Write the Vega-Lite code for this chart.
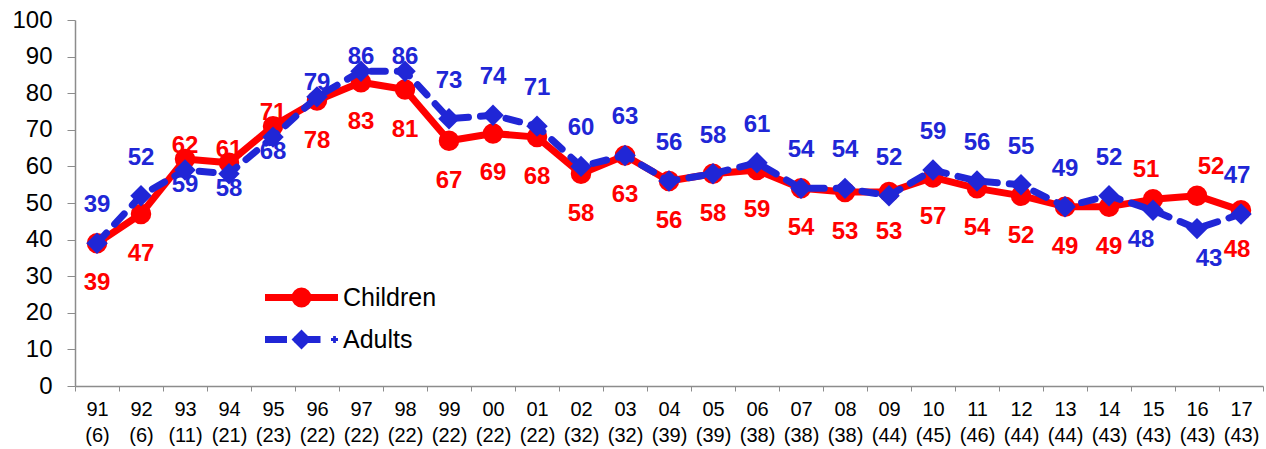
{
  "$schema": "https://vega.github.io/schema/vega-lite/v6.json",
  "width": 1188,
  "height": 366,
  "autosize": {"type": "none"},
  "padding": {"left": 75, "top": 20, "right": 3, "bottom": 63},
  "background": "white",
  "config": {
    "view": {"stroke": null},
    "font": "Liberation Sans",
    "legend": {
      "orient": "none", "legendX": 214, "legendY": 265, "title": null, "padding": 0,
      "symbolSize": 256, "labelFontSize": 25, "labelColor": "#000000", "labelOffset": 29, "rowPadding": 2,
      "symbolStrokeWidth": 7, "symbolOpacity": 1
    }
  },
  "data": {"values": [
    {"period": "91 (6)", "series": "Children", "value": 39},
    {"period": "92 (6)", "series": "Children", "value": 47},
    {"period": "93 (11)", "series": "Children", "value": 62},
    {"period": "94 (21)", "series": "Children", "value": 61},
    {"period": "95 (23)", "series": "Children", "value": 71},
    {"period": "96 (22)", "series": "Children", "value": 78},
    {"period": "97 (22)", "series": "Children", "value": 83},
    {"period": "98 (22)", "series": "Children", "value": 81},
    {"period": "99 (22)", "series": "Children", "value": 67},
    {"period": "00 (22)", "series": "Children", "value": 69},
    {"period": "01 (22)", "series": "Children", "value": 68},
    {"period": "02 (32)", "series": "Children", "value": 58},
    {"period": "03 (32)", "series": "Children", "value": 63},
    {"period": "04 (39)", "series": "Children", "value": 56},
    {"period": "05 (39)", "series": "Children", "value": 58},
    {"period": "06 (38)", "series": "Children", "value": 59},
    {"period": "07 (38)", "series": "Children", "value": 54},
    {"period": "08 (38)", "series": "Children", "value": 53},
    {"period": "09 (44)", "series": "Children", "value": 53},
    {"period": "10 (45)", "series": "Children", "value": 57},
    {"period": "11 (46)", "series": "Children", "value": 54},
    {"period": "12 (44)", "series": "Children", "value": 52},
    {"period": "13 (44)", "series": "Children", "value": 49},
    {"period": "14 (43)", "series": "Children", "value": 49},
    {"period": "15 (43)", "series": "Children", "value": 51},
    {"period": "16 (43)", "series": "Children", "value": 52},
    {"period": "17 (43)", "series": "Children", "value": 48},
    {"period": "91 (6)", "series": "Adults", "value": 39},
    {"period": "92 (6)", "series": "Adults", "value": 52},
    {"period": "93 (11)", "series": "Adults", "value": 59},
    {"period": "94 (21)", "series": "Adults", "value": 58},
    {"period": "95 (23)", "series": "Adults", "value": 68},
    {"period": "96 (22)", "series": "Adults", "value": 79},
    {"period": "97 (22)", "series": "Adults", "value": 86},
    {"period": "98 (22)", "series": "Adults", "value": 86},
    {"period": "99 (22)", "series": "Adults", "value": 73},
    {"period": "00 (22)", "series": "Adults", "value": 74},
    {"period": "01 (22)", "series": "Adults", "value": 71},
    {"period": "02 (32)", "series": "Adults", "value": 60},
    {"period": "03 (32)", "series": "Adults", "value": 63},
    {"period": "04 (39)", "series": "Adults", "value": 56},
    {"period": "05 (39)", "series": "Adults", "value": 58},
    {"period": "06 (38)", "series": "Adults", "value": 61},
    {"period": "07 (38)", "series": "Adults", "value": 54},
    {"period": "08 (38)", "series": "Adults", "value": 54},
    {"period": "09 (44)", "series": "Adults", "value": 52},
    {"period": "10 (45)", "series": "Adults", "value": 59},
    {"period": "11 (46)", "series": "Adults", "value": 56},
    {"period": "12 (44)", "series": "Adults", "value": 55},
    {"period": "13 (44)", "series": "Adults", "value": 49},
    {"period": "14 (43)", "series": "Adults", "value": 52},
    {"period": "15 (43)", "series": "Adults", "value": 48},
    {"period": "16 (43)", "series": "Adults", "value": 43},
    {"period": "17 (43)", "series": "Adults", "value": 47}
  ]},
  "encoding": {
    "x": {
      "field": "period", "type": "ordinal", "sort": null,
      "scale": {"type": "band", "paddingInner": 0, "paddingOuter": 0},
      "axis": {
        "title": null, "labelAngle": 0, "labelExpr": "split(datum.label, ' ')",
        "labelFontSize": 20, "labelLineHeight": 26, "labelPadding": 8, "labelColor": "#000000",
        "tickSize": 5, "tickBand": "extent", "domainColor": "#8c8c8c", "tickColor": "#8c8c8c",
        "domainWidth": 1.5, "grid": false
      }
    },
    "y": {
      "field": "value", "type": "quantitative",
      "scale": {"domain": [0, 100], "nice": false, "zero": true},
      "axis": {
        "title": null, "values": [0, 10, 20, 30, 40, 50, 60, 70, 80, 90, 100],
        "labelFontSize": 24, "labelPadding": 15, "labelColor": "#000000",
        "tickSize": 8, "domainColor": "#8c8c8c", "tickColor": "#8c8c8c", "domainWidth": 1.5, "grid": false
      }
    }
  },
  "layer": [
    {
      "mark": {"type": "point", "filled": false, "opacity": 0, "strokeWidth": 7, "size": 256},
      "encoding": {
        "color": {"field": "series", "type": "nominal",
          "scale": {"domain": ["Children", "Adults"], "range": ["#FF0000", "#2026D6"]},
          "legend": {"symbolOpacity": 1, "symbolStrokeWidth": 7}
        },
        "shape": {"field": "series", "type": "nominal",
          "scale": {"domain": ["Children", "Adults"], "range": [
            "M-4.5625,0H4.5625M-0.375,0A0.375,0.375 0 1,0 0.375,0A0.375,0.375 0 1,0 -0.375,0ZM-0.8125,0A0.8125,0.8125 0 1,0 0.8125,0A0.8125,0.8125 0 1,0 -0.8125,0Z",
            "M-4.5625,0H-1.8125M-0.875,0H2.375M0,-0.625L0.625,0L0,0.625L-0.625,0ZM3.95,0H4.3M4.125,-0.2V0.2"]},
          "legend": {"symbolOpacity": 1, "symbolStrokeWidth": 7}
        }
      }
    },
    {
      "transform": [{"filter": "datum.series === 'Children'"}],
      "mark": {"type": "line", "color": "#FF0000", "strokeWidth": 7, "strokeJoin": "round"}
    },
    {
      "transform": [{"filter": "datum.series === 'Children'"}],
      "mark": {"type": "point", "shape": "circle", "filled": true, "opacity": 1, "size": 420, "color": "#FF0000"}
    },
    {
      "transform": [{"filter": "datum.series === 'Adults'"}],
      "mark": {"type": "line", "color": "#2026D6", "strokeWidth": 7, "strokeDash": [14, 12], "strokeCap": "round", "strokeJoin": "round"}
    },
    {
      "transform": [{"filter": "datum.series === 'Adults'"}],
      "mark": {"type": "point", "shape": "diamond", "filled": true, "opacity": 1, "size": 460, "color": "#2026D6"}
    },
    {
      "transform": [{"filter": "datum.series === 'Children'"}],
      "mark": {"type": "text", "color": "#FF0000", "fontSize": 24, "fontWeight": "bold", "baseline": "middle", "align": "center",
        "dy": {"expr": "indexof(['93','94','95'], substring(datum.period,0,2)) >= 0 ? -13 : (indexof(['15','16'], substring(datum.period,0,2)) >= 0 ? -29 : 40)"},
        "dx": {"expr": "substring(datum.period,0,2) == '16' ? 14 : (substring(datum.period,0,2) == '15' ? -7 : (substring(datum.period,0,2) == '17' ? -4 : 0))"}},
      "encoding": {"text": {"field": "value", "type": "quantitative"}}
    },
    {
      "transform": [{"filter": "datum.series === 'Adults'"}],
      "mark": {"type": "text", "color": "#2026D6", "fontSize": 24, "fontWeight": "bold", "baseline": "middle", "align": "center",
        "dy": {"expr": "indexof(['93','94','95'], substring(datum.period,0,2)) >= 0 ? 15 : (indexof(['15','16'], substring(datum.period,0,2)) >= 0 ? 30 : (indexof(['96','97','98'], substring(datum.period,0,2)) >= 0 ? -14 : -38))"},
        "dx": {"expr": "substring(datum.period,0,2) == '16' ? 12 : (substring(datum.period,0,2) == '15' ? -12 : (substring(datum.period,0,2) == '17' ? -4 : 0))"}},
      "encoding": {"text": {"field": "value", "type": "quantitative"}}
    }
  ]
}
